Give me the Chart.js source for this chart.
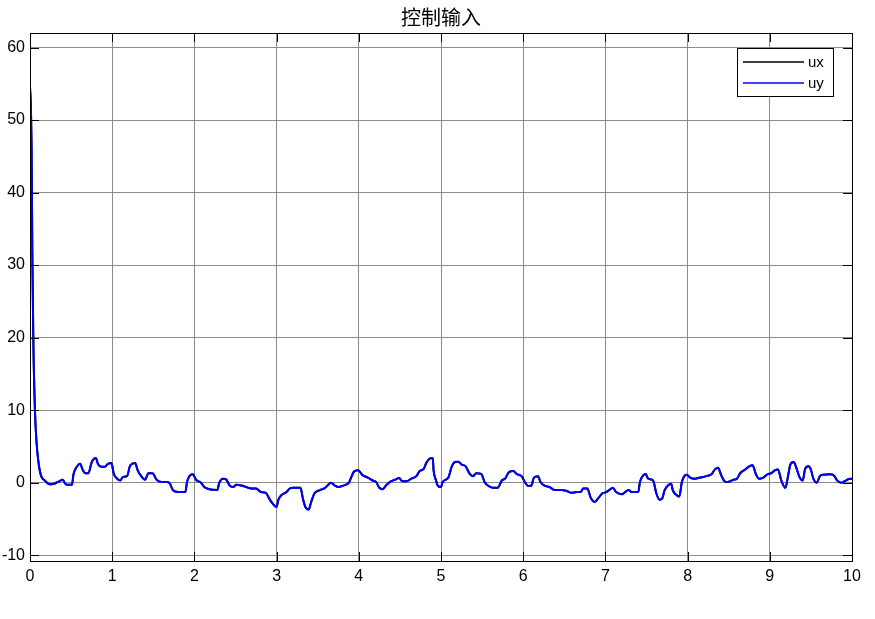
<!DOCTYPE html>
<html>
<head>
<meta charset="utf-8">
<title>控制输入</title>
<script src="https://cdn.jsdelivr.net/npm/chart.js@4/dist/chart.umd.min.js"></script>
<style>
  body { margin: 0; background: #fff; }
  #wrap { width: 875px; height: 619px; }
</style>
</head>
<body>
<div id="wrap"><canvas id="chart" width="875" height="619"></canvas></div>
<script>
// time samples (s)
const times = [
  0, 0.01, 0.02, 0.028, 0.04, 0.06, 0.08, 0.10, 0.12, 0.14, 0.18, 0.24, 0.28, 0.34, 0.40, 0.425, 0.45, 0.51, 0.53, 0.57,
  0.61, 0.64, 0.67, 0.71, 0.75, 0.80, 0.83, 0.87, 0.91, 0.95, 0.99, 1.02, 1.06, 1.10, 1.13, 1.18, 1.22, 1.28, 1.31, 1.36,
  1.40, 1.44, 1.49, 1.54, 1.60, 1.67, 1.70, 1.74, 1.80, 1.89, 1.91, 1.94, 1.98, 2.02, 2.08, 2.12, 2.18, 2.28, 2.30, 2.35,
  2.39, 2.43, 2.47, 2.51, 2.57, 2.63, 2.69, 2.75, 2.81, 2.87, 2.91, 2.96, 3.00, 3.02, 3.06, 3.12, 3.16, 3.20, 3.29, 3.32,
  3.35, 3.39, 3.42, 3.46, 3.52, 3.58, 3.62, 3.66, 3.71, 3.75, 3.81, 3.88, 3.91, 3.94, 3.99, 4.05, 4.11, 4.17, 4.21, 4.25,
  4.29, 4.33, 4.38, 4.44, 4.49, 4.53, 4.58, 4.64, 4.70, 4.74, 4.79, 4.82, 4.86, 4.90, 4.91, 4.94, 4.96, 5.00, 5.02, 5.09,
  5.13, 5.17, 5.21, 5.25, 5.30, 5.35, 5.39, 5.43, 5.49, 5.53, 5.57, 5.63, 5.69, 5.74, 5.78, 5.83, 5.88, 5.92, 5.98, 6.02,
  6.06, 6.10, 6.13, 6.18, 6.21, 6.26, 6.32, 6.38, 6.47, 6.53, 6.59, 6.65, 6.70, 6.73, 6.78, 6.82, 6.87, 6.91, 6.96, 7.01,
  7.05, 7.09, 7.13, 7.20, 7.24, 7.28, 7.32, 7.40, 7.42, 7.46, 7.49, 7.52, 7.58, 7.62, 7.66, 7.69, 7.72, 7.76, 7.80, 7.82,
  7.87, 7.90, 7.93, 7.96, 7.99, 8.03, 8.09, 8.15, 8.23, 8.29, 8.33, 8.37, 8.41, 8.45, 8.49, 8.56, 8.60, 8.64, 8.70, 8.75,
  8.79, 8.83, 8.87, 8.92, 8.97, 9.02, 9.06, 9.10, 9.14, 9.19, 9.22, 9.25, 9.29, 9.32, 9.36, 9.40, 9.43, 9.47, 9.50, 9.53,
  9.57, 9.61, 9.65, 9.73, 9.78, 9.82, 9.87, 9.91, 9.96, 10.0
];

const uyValues = [
  54.5, 52, 45, 32, 20, 10, 5.5, 3.1, 1.6, 0.8, 0.3, -0.23, -0.2, 0.1, 0.4, -0.1, -0.3, -0.3, 1.2, 2.2,
  2.6, 1.8, 1.3, 1.3, 2.8, 3.4, 2.5, 2.2, 2.2, 2.6, 2.7, 1.2, 0.55, 0.3, 0.8, 0.9, 2.4, 2.7, 1.7, 0.8,
  0.4, 1.3, 1.3, 0.4, 0.1, 0.1, -0.1, -1.05, -1.3, -1.3, 0.1, 0.9, 1.15, 0.4, 0, -0.6, -0.9, -1.0, -0.1, 0.55,
  0.4, -0.4, -0.6, -0.3, -0.4, -0.6, -0.8, -0.8, -1.3, -1.4, -2.2, -3.0, -3.35, -2.4, -1.7, -1.3, -0.8, -0.7, -0.7, -2.2,
  -3.35, -3.7, -2.7, -1.5, -1.05, -0.8, -0.4, 0, -0.4, -0.6, -0.4, 0, 0.8, 1.5, 1.7, 1.0, 0.7, 0.3, 0.1, -0.7,
  -0.9, -0.4, 0.1, 0.4, 0.65, 0.2, 0.2, 0.55, 0.9, 1.6, 1.9, 2.7, 3.3, 3.4, 1.7, 0.3, -0.4, -0.6, 0.1, 0.7,
  2.2, 2.85, 2.9, 2.5, 2.25, 1.2, 0.9, 1.3, 1.2, 0.1, -0.4, -0.7, -0.7, 0.3, 0.55, 1.5, 1.6, 1.2, 0.9, 0.1,
  -0.45, -0.4, 0.7, 0.9, 0.1, -0.4, -0.6, -1.0, -1.0, -1.15, -1.4, -1.3, -1.3, -0.8, -0.8, -2.05, -2.65, -2.2, -1.5, -1.3,
  -1.0, -0.7, -1.3, -1.6, -1.3, -1.0, -1.3, -1.3, 0.1, 1.0, 1.2, 0.55, 0.3, -1.5, -2.35, -2.2, -1.05, -0.4, -0.15, -1.05,
  -1.75, -1.9, 0.1, 0.9, 1.1, 0.7, 0.55, 0.7, 0.9, 1.15, 1.8, 2.05, 1.0, 0.2, 0.1, 0.4, 0.55, 1.3, 1.8, 2.25,
  2.4, 1.2, 0.55, 0.7, 1.15, 1.3, 1.7, 1.8, 0.3, -0.7, 0.8, 2.5, 2.85, 2.15, 0.8, 0.3, 1.9, 2.25, 1.8, 0.55,
  0, 0.9, 1.1, 1.15, 1.0, 0.3, 0, 0.2, 0.5, 0.55
];

// ux is drawn first and is completely covered by uy in the picture
const uxValues = uyValues;

const xTicks = [0, 1, 2, 3, 4, 5, 6, 7, 8, 9, 10];
const yTicks = [-10, 0, 10, 20, 30, 40, 50, 60];

const toPoints = vals => times.map((t, i) => ({ x: t, y: vals[i] }));

const tickFont = { family: '"Liberation Sans", Arial, sans-serif', size: 16 };

// inward tick marks and the box around the plot area
const frame = {
  id: 'frame',
  afterDatasetsDraw(chart) {
    const { ctx, chartArea: a, scales } = chart;
    const len = 9;
    ctx.save();
    ctx.strokeStyle = '#000';
    ctx.lineWidth = 1;
    ctx.beginPath();
    scales.x.ticks.forEach(t => {
      const px = Math.round(scales.x.getPixelForValue(t.value)) + 0.5;
      ctx.moveTo(px, a.bottom); ctx.lineTo(px, a.bottom - len);
      ctx.moveTo(px, a.top); ctx.lineTo(px, a.top + len);
    });
    scales.y.ticks.forEach(t => {
      const py = Math.round(scales.y.getPixelForValue(t.value)) + 0.5;
      ctx.moveTo(a.left, py); ctx.lineTo(a.left + len, py);
      ctx.moveTo(a.right, py); ctx.lineTo(a.right - len, py);
    });
    ctx.stroke();
    ctx.strokeRect(Math.round(a.left) + 0.5, Math.round(a.top) + 0.5,
      Math.round(a.right - a.left), Math.round(a.bottom - a.top));
    ctx.restore();
  }
};

// MATLAB style legend box in the top right corner
const boxLegend = {
  id: 'boxLegend',
  afterDraw(chart) {
    const ctx = chart.ctx;
    const x0 = 737.5, y0 = 48.5, w = 96, h = 48;
    ctx.save();
    ctx.fillStyle = '#fff';
    ctx.fillRect(x0, y0, w, h);
    ctx.strokeStyle = '#000';
    ctx.lineWidth = 1;
    ctx.strokeRect(x0, y0, w, h);
    ctx.font = '15px "Liberation Sans", Arial, sans-serif';
    ctx.textBaseline = 'middle';
    const entries = [chart.data.datasets[1], chart.data.datasets[0]];
    entries.forEach((ds, i) => {
      const y = 62 + i * 21;
      ctx.strokeStyle = ds.borderColor;
      ctx.lineWidth = 1.6;
      ctx.beginPath();
      ctx.moveTo(743, y); ctx.lineTo(804, y);
      ctx.stroke();
      ctx.fillStyle = '#000';
      ctx.fillText(ds.label, 808, y + 1);
    });
    ctx.restore();
  }
};

new Chart(document.getElementById('chart'), {
  type: 'line',
  data: {
    datasets: [
      { label: 'uy', data: toPoints(uyValues), borderColor: '#0000ff', borderWidth: 2,
        pointRadius: 0, cubicInterpolationMode: 'monotone', order: 0 },
      { label: 'ux', data: toPoints(uxValues), borderColor: '#000000', borderWidth: 2,
        pointRadius: 0, cubicInterpolationMode: 'monotone', order: 1 }
    ]
  },
  options: {
    responsive: false,
    animation: false,
    parsing: false,
    layout: { padding: { left: 0, right: 23, top: 0, bottom: 0 } },
    plugins: {
      legend: { display: false },
      tooltip: { enabled: false },
      title: {
        display: true,
        fullSize: false, // centre over the plot area, not the canvas
        text: '控制输入',
        color: '#000',
        font: { family: '"Noto Sans CJK SC", sans-serif', size: 20, weight: 'normal' },
        padding: { top: 5, bottom: 4 }
      }
    },
    scales: {
      x: {
        type: 'linear',
        min: 0,
        max: 10,
        afterBuildTicks: s => { s.ticks = xTicks.map(v => ({ value: v })); },
        afterFit: s => { s.height = 58; },
        ticks: { color: '#000', font: tickFont, padding: 6, maxRotation: 0, autoSkip: false },
        grid: { color: '#8c8c8c', drawTicks: false },
        border: { display: false }
      },
      y: {
        min: -10.8,
        max: 62,
        afterBuildTicks: s => { s.ticks = yTicks.map(v => ({ value: v })); },
        afterFit: s => { s.width = 30; },
        ticks: { color: '#000', font: tickFont, padding: 5 },
        grid: { color: '#8c8c8c', drawTicks: false },
        border: { display: false }
      }
    }
  },
  plugins: [frame, boxLegend]
});
</script>
</body>
</html>
